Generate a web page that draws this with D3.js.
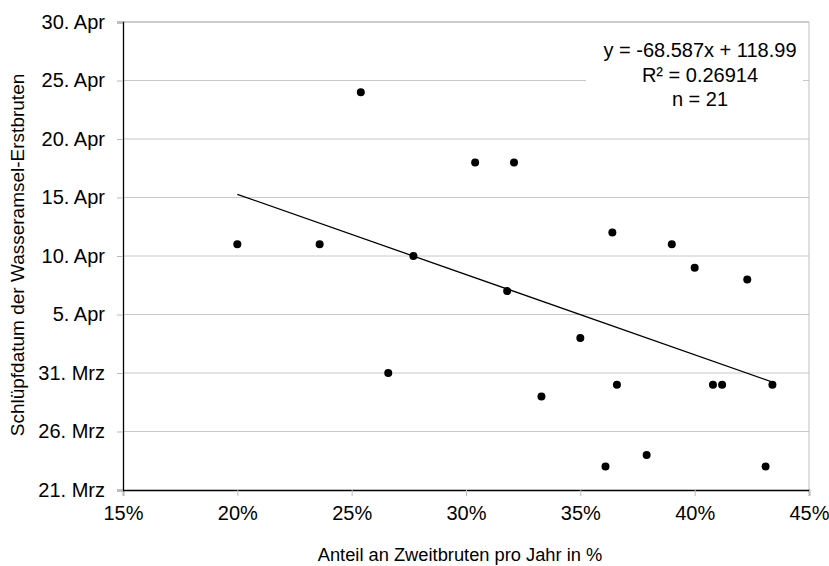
<!DOCTYPE html>
<html>
<head>
<meta charset="utf-8">
<script src="https://cdn.jsdelivr.net/npm/d3@7"></script>
<style>
  body { margin: 0; background: #fff; }
  text { font-family: Arial, "Liberation Sans", sans-serif; }
</style>
</head>
<body>
<script>
// Anteil Zweitbruten (%) und Schlüpfdatum (Tag im Jahr) der Erstbruten
var anteil = [20.0, 23.6, 25.4, 27.7, 26.6, 30.4, 32.1, 31.8, 33.3, 35.0, 36.4,
              36.6, 36.1, 37.9, 39.0, 40.0, 42.3, 40.8, 41.2, 43.4, 43.1];
var tag = [101, 101, 114, 100, 90, 108, 108, 97, 88, 93, 102,
           89, 82, 83, 101, 99, 98, 89, 89, 89, 82];

var xTicks = [15, 20, 25, 30, 35, 40, 45];
var yTicks = [80, 85, 90, 95, 100, 105, 110, 115, 120];
var yTickLabels = ["21. Mrz", "26. Mrz", "31. Mrz", "5. Apr", "10. Apr",
                   "15. Apr", "20. Apr", "25. Apr", "30. Apr"];

var slope = -68.587, intercept = 118.99;
var legendLines = ["y = -68.587x + 118.99", "R\u00b2 = 0.26914", "n = 21"];

var w = 829, h = 566;
var pLeft = 123, pRight = 809, pTop = 22, pBottom = 490;

var svg = d3.select("body").append("svg")
  .attr("width", w)
  .attr("height", h);

var x = d3.scaleLinear().domain([15, 45]).range([pLeft, pRight]);
var y = d3.scaleLinear().domain([80, 120]).range([pBottom, pTop]);

// gridlines
svg.selectAll("line.grid")
  .data(yTicks.slice(1))
  .enter()
  .append("line")
  .attr("x1", pLeft).attr("x2", pRight)
  .attr("y1", function(d) { return y(d); })
  .attr("y2", function(d) { return y(d); })
  .attr("stroke", function(d) { return d === 120 ? "#9a9a9a" : "#c8c8c8"; })
  .attr("stroke-width", 1);

// right border
svg.append("line")
  .attr("x1", pRight).attr("x2", pRight)
  .attr("y1", pTop).attr("y2", pBottom)
  .attr("stroke", "#c0c0c0");

// legend box (white, hides the gridline)
svg.append("rect")
  .attr("x", 586).attr("y", 32)
  .attr("width", 217).attr("height", 80)
  .attr("fill", "#fff");

svg.selectAll("text.leg")
  .data(legendLines)
  .enter()
  .append("text")
  .attr("x", 700)
  .attr("y", function(d, i) { return 57 + i * 24.5; })
  .attr("text-anchor", "middle")
  .attr("font-size", "20px")
  .attr("fill", "#000")
  .text(function(d) { return d; });

// axes
var xAxis = d3.axisBottom(x)
  .tickValues(xTicks)
  .tickSize(6)
  .tickPadding(10)
  .tickFormat(function(d) { return d + "%"; });

var yAxis = d3.axisLeft(y)
  .tickValues(yTicks)
  .tickSize(6)
  .tickPadding(12)
  .tickFormat(function(d, i) { return yTickLabels[i]; });

var gx = svg.append("g")
  .attr("transform", "translate(0," + pBottom + ")")
  .call(xAxis);
var gy = svg.append("g")
  .attr("transform", "translate(" + pLeft + ",0)")
  .call(yAxis);

[gx, gy].forEach(function(g) {
  g.select(".domain").attr("stroke", "#000").attr("stroke-width", 1.3);
  g.selectAll(".tick line").attr("stroke", "#bbb");
  g.selectAll(".tick text")
    .attr("font-size", "20px")
    .attr("font-family", "Arial, 'Liberation Sans', sans-serif")
    .attr("fill", "#000");
});

// trend line
var xr = d3.extent(anteil);
svg.append("line")
  .attr("x1", x(xr[0])).attr("x2", x(xr[1]))
  .attr("y1", y(slope * xr[0] / 100 + intercept))
  .attr("y2", y(slope * xr[1] / 100 + intercept))
  .attr("stroke", "#000")
  .attr("stroke-width", 1.3);

// points
svg.selectAll("circle")
  .data(anteil)
  .enter()
  .append("circle")
  .attr("cx", function(d) { return x(d); })
  .attr("cy", function(d, i) { return y(tag[i]); })
  .attr("r", 4)
  .attr("fill", "#000");

// axis titles
svg.append("text")
  .attr("x", 460)
  .attr("y", 561)
  .attr("text-anchor", "middle")
  .attr("font-size", "18.3px")
  .text("Anteil an Zweitbruten pro Jahr in %");

svg.append("text")
  .attr("transform", "translate(24," + 255 + ") rotate(-90)")
  .attr("text-anchor", "middle")
  .attr("font-size", "19px")
  .text("Schlüpfdatum der Wasseramsel-Erstbruten");
</script>
</body>
</html>
